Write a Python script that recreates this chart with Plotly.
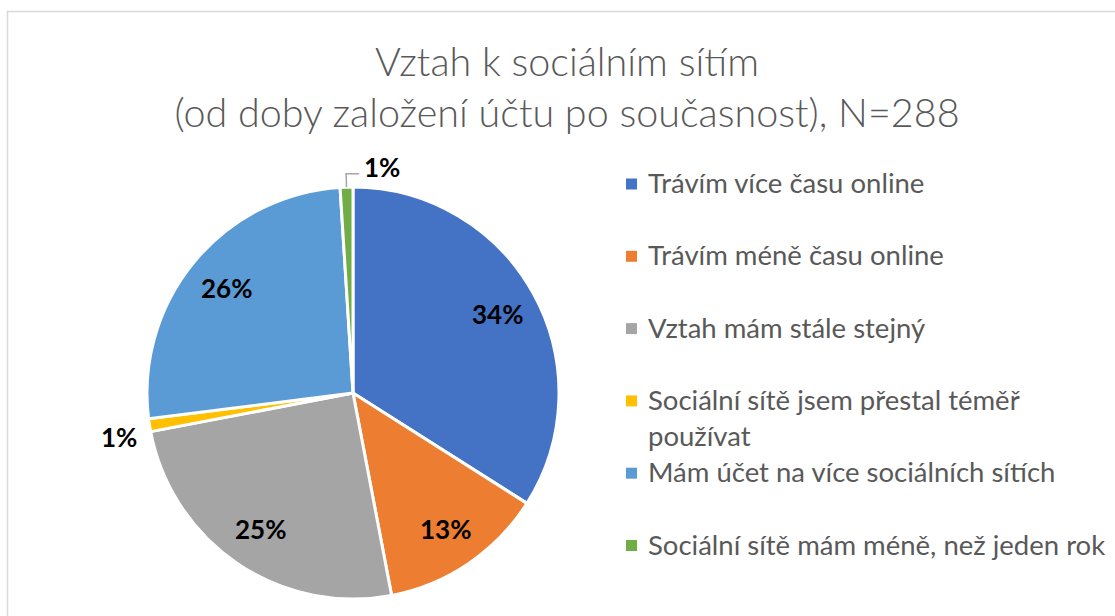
import math
import plotly.graph_objects as go

# Survey answers (share of respondents, %)
labels = [
    "Trávím více času online",
    "Trávím méně času online",
    "Vztah mám stále stejný",
    "Sociální sítě jsem přestal téměř používat",
    "Mám účet na více sociálních sítích",
    "Sociální sítě mám méně, než jeden rok",
]
legend_text = [
    "Trávím více času online",
    "Trávím méně času online",
    "Vztah mám stále stejný",
    "Sociální sítě jsem přestal téměř<br>používat",
    "Mám účet na více sociálních sítích",
    "Sociální sítě mám méně, než jeden rok",
]
share = [34, 13, 25, 1, 26, 1]
colors = ["#4472C4", "#ED7D31", "#A5A5A5", "#FFC000", "#5B9BD5", "#70AD47"]

W, H = 1115, 616

# pie placement in pixels
CX, CY, R = 353, 393, 206


def px(x):
    return x / W


def py(y):
    return 1 - y / H


fig = go.Figure(
    go.Pie(
        labels=labels,
        values=share,
        sort=False,
        direction="clockwise",
        rotation=0,
        marker=dict(colors=colors, line=dict(color="white", width=3)),
        textinfo="none",
        showlegend=False,
        hoverinfo="label+percent",
        domain=dict(x=[px(CX - R), px(CX + R)], y=[py(CY + R), py(CY - R)]),
    )
)

shapes = [
    # chart area border
    dict(type="rect", xref="paper", yref="paper",
         x0=px(7.5), x1=1.02, y0=-0.02, y1=py(11.5),
         line=dict(color="#D9D9D9", width=1.5), fillcolor="rgba(0,0,0,0)"),
]
annotations = []

# data labels: inside for large slices, outside (with leader near the top) for tiny ones
label_font = dict(family="Lato", size=26, color="black", weight="bold")
total = sum(share)
cum = 0.0
for v in share:
    mid = (cum + v / 2) / total * 2 * math.pi
    cum += v
    sx, sy = math.sin(mid), -math.cos(mid)
    txt = f"{v}%"
    if v / total >= 0.05:
        x, y = CX + 0.8 * R * sx, CY + 0.8 * R * sy
        annotations.append(dict(xref="paper", yref="paper", x=px(x), y=py(y),
                                xanchor="center", yanchor="middle", text=txt,
                                showarrow=False, font=label_font))
    elif abs(sx) < 0.3:
        # leader line: radial tick then short horizontal run
        x0, y0 = CX + R * sx, CY + R * sy
        x1, y1 = CX + 1.065 * R * sx, CY + 1.065 * R * sy
        x2 = x1 + 13
        shapes.append(dict(type="path", xref="paper", yref="paper",
                           path=f"M {px(x0)},{py(y0)} L {px(x1)},{py(y1)} L {px(x2)},{py(y1)}",
                           line=dict(color="#A6A6A6", width=1.5)))
        annotations.append(dict(xref="paper", yref="paper", x=px(x2 + 3), y=py(y1 - 7),
                                xanchor="left", yanchor="middle", text=txt,
                                showarrow=False, font=label_font))
    else:
        x, y = CX + 1.05 * R * sx, CY + 1.05 * R * sy
        annotations.append(dict(xref="paper", yref="paper", x=px(x), y=py(y + 10),
                                xanchor="right" if sx < 0 else "left", yanchor="middle",
                                text=txt, showarrow=False, font=label_font))

# legend: colour square + label per category
first_row = 184
row_step = 72.3
for i, (txt, col) in enumerate(zip(legend_text, colors)):
    cy = first_row + i * row_step
    shapes.append(dict(type="rect", xref="paper", yref="paper",
                       x0=px(626), x1=px(637), y0=py(cy + 5.5), y1=py(cy - 5.5),
                       line=dict(width=0), fillcolor=col))
    annotations.append(dict(xref="paper", yref="paper", x=px(646), y=py(cy - 20),
                            xanchor="left", yanchor="top", align="left",
                            text=txt, showarrow=False,
                            font=dict(family="Lato", size=27.5, color="#595959")))

fig.update_layout(
    width=W, height=H,
    margin=dict(l=0, r=0, t=0, b=0),
    paper_bgcolor="white",
    plot_bgcolor="white",
    title=dict(
        text="Vztah k sociálním sítím<br>(od doby založení účtu po současnost), N=288",
        x=px(567), xanchor="center", y=py(76), yanchor="middle",
        font=dict(family="Lato", size=39.5, color="#595959", weight=300),
    ),
    shapes=shapes,
    annotations=annotations,
)

fig.write_html("out.html")
